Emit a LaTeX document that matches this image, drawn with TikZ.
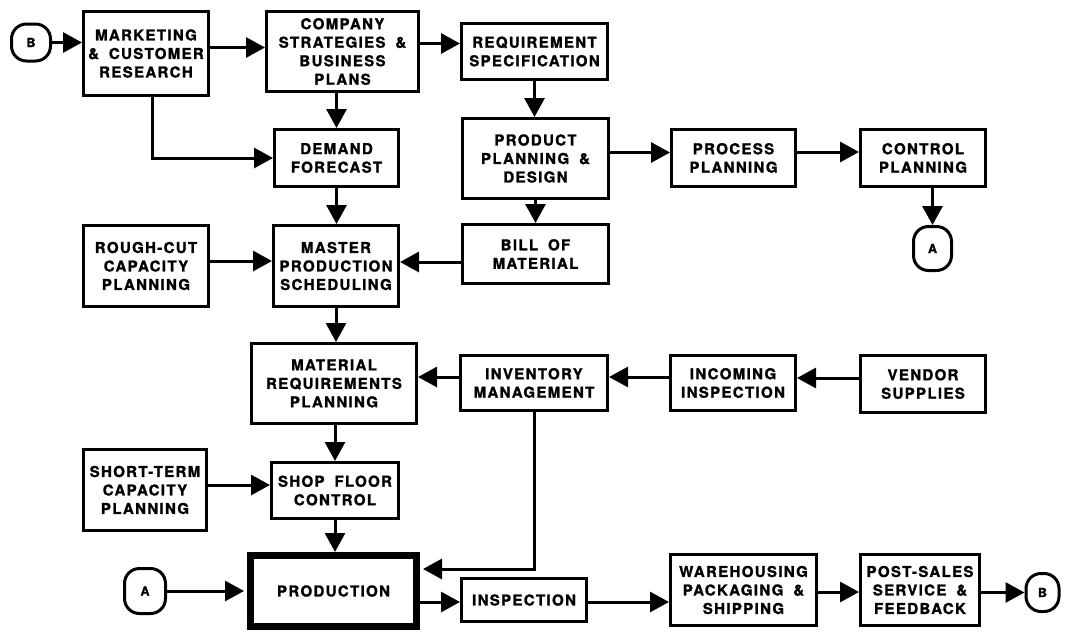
\documentclass[tikz,border=0pt]{standalone}
\usepackage{fontspec}
\newfontfamily\boxfont{TeX Gyre Heros}[LetterSpace=9,WordSpace=1.8,BoldFeatures={FakeBold=1.4}]
\usetikzlibrary{arrows.meta}
\tikzset{
  blk/.style={draw, line width=3pt, inner sep=0pt, align=center,
    font=\boxfont\bfseries\fontsize{15}{18.5}\selectfont},
  term/.style={draw, line width=3pt, rounded corners=15pt, inner sep=0pt,
    font=\boxfont\bfseries\fontsize{12.5}{14}\selectfont},
  arr/.style={line width=3pt, -{Triangle[length=19pt,width=20pt]}},
}
\begin{document}
\begin{tikzpicture}[x=1pt,y=-1pt]
\useasboundingbox (0,0) rectangle (1070,632);
% top row
\node[term, minimum width=39pt, minimum height=37pt] (B1) at (31,42.5) {B};
\node[blk, minimum width=125pt, minimum height=84pt] (mkt) at (146,53.5) {MARKETING\\\& CUSTOMER\\RESEARCH};
\node[blk, minimum width=152pt, minimum height=80pt] (comp) at (342.5,51.5) {COMPANY\\STRATEGIES \&\\BUSINESS\\PLANS};
\node[blk, minimum width=146pt, minimum height=56pt] (req) at (534.5,51.5) {REQUIREMENT\\SPECIFICATION};
% second row
\node[blk, minimum width=124pt, minimum height=57pt] (dem) at (336.5,158) {DEMAND\\FORECAST};
\node[blk, minimum width=146pt, minimum height=80pt] (prod) at (535.5,158.5) {PRODUCT\\PLANNING \&\\DESIGN};
\node[blk, minimum width=124pt, minimum height=57pt] (proc) at (733.5,158) {PROCESS\\PLANNING};
\node[blk, minimum width=125pt, minimum height=57pt] (ctrl) at (923,158) {CONTROL\\PLANNING};
\node[term, minimum width=38pt, minimum height=44pt] (A1) at (932.5,248.5) {A};
% third row
\node[blk, minimum width=125pt, minimum height=81pt] (rough) at (146,266) {ROUGH-CUT\\CAPACITY\\PLANNING};
\node[blk, minimum width=125pt, minimum height=81pt] (mps) at (336,266) {MASTER\\PRODUCTION\\SCHEDULING};
\node[blk, minimum width=146pt, minimum height=59pt] (bom) at (535.5,254) {BILL OF\\MATERIAL};
% fourth row
\node[blk, minimum width=165pt, minimum height=80pt] (mrp) at (334,383.5) {MATERIAL\\REQUIREMENTS\\PLANNING};
\node[blk, minimum width=147pt, minimum height=55pt] (inv) at (534,383) {INVENTORY\\MANAGEMENT};
\node[blk, minimum width=125pt, minimum height=55pt] (inc) at (733,383) {INCOMING\\INSPECTION};
\node[blk, minimum width=125pt, minimum height=57pt] (ven) at (923,384) {VENDOR\\SUPPLIES};
% fifth row
\node[blk, minimum width=123pt, minimum height=81pt] (short) at (145,490) {SHORT-TERM\\CAPACITY\\PLANNING};
\node[blk, minimum width=127pt, minimum height=56pt] (shop) at (335,490.5) {SHOP FLOOR\\CONTROL};
% bottom row
\node[blk, line width=7pt, minimum width=166pt, minimum height=71pt] (prodn) at (333.5,591) {PRODUCTION};
\node[term, minimum width=41pt, minimum height=45pt] (A2) at (145,591) {A};
\node[blk, minimum width=125pt, minimum height=43pt] (insp) at (524,600) {INSPECTION};
\node[blk, minimum width=146pt, minimum height=71pt] (ware) at (743.5,590) {WAREHOUSING\\PACKAGING \&\\SHIPPING};
\node[blk, minimum width=119pt, minimum height=71pt] (post) at (920,590) {POST-SALES\\SERVICE \&\\FEEDBACK};
\node[term, minimum width=33pt, minimum height=38pt] (B2) at (1042.5,592.5) {B};
% connectors
\draw[arr] (B1.east) -- (B1.east -| mkt.west);
\draw[arr] ([yshift=6pt]mkt.east) -- ([yshift=6pt]mkt.east -| comp.west);
\draw[arr] ([xshift=6pt]mkt.south) |- (dem.west);
\draw[arr] ([yshift=8pt]comp.east) -- ([yshift=8pt]comp.east -| req.west);
\draw[arr] (comp.south -| dem.north) -- (dem.north);
\draw[arr] (req.south) -- (req.south |- prod.north);
\draw[arr] ([yshift=6pt]prod.east) -- ([yshift=6pt]prod.east -| proc.west);
\draw[arr] ([yshift=6pt]proc.east) -- ([yshift=6pt]proc.east -| ctrl.west);
\draw[arr] (ctrl.south -| A1.north) -- (A1.north);
\draw[arr] (prod.south) -- (prod.south |- bom.north);
\draw[arr] (dem.south) -- (dem.south |- mps.north);
\draw[arr] ([yshift=5pt]rough.east) -- ([yshift=5pt]rough.east -| mps.west);
\draw[arr] ([yshift=-8pt]bom.west) -- ([yshift=-8pt]bom.west -| mps.east);
\draw[arr] (mps.south) -- (mps.south |- mrp.north);
\draw[arr] ([yshift=6pt]inv.west) -- ([yshift=6pt]inv.west -| mrp.east);
\draw[arr] ([yshift=6pt]inc.west) -- ([yshift=6pt]inc.west -| inv.east);
\draw[arr] ([yshift=6pt]ven.west) -- ([yshift=6pt]ven.west -| inc.east);
\draw[arr] (mrp.south -| shop.north) -- (shop.north);
\draw[arr] ([yshift=5pt]short.east) -- ([yshift=5pt]short.east -| shop.west);
\draw[arr] (shop.south) -- (shop.south |- prodn.north);
\draw[arr, shorten >=3pt] (inv.south) |- ([yshift=22pt]prodn.east);
\draw[arr, shorten >=3pt] (A2.east) -- (A2.east -| prodn.west);
\draw[arr] ([yshift=-2pt]insp.west -| prodn.east) -- ([yshift=-2pt]insp.west);
\draw[arr] ([yshift=-2pt]insp.east) -- ([yshift=-2pt]insp.east -| ware.west);
\draw[arr] ([yshift=-2pt]ware.east) -- ([yshift=-2pt]ware.east -| post.west);
\draw[arr] (post.east |- B2.west) -- (B2.west);
\end{tikzpicture}
\end{document}
